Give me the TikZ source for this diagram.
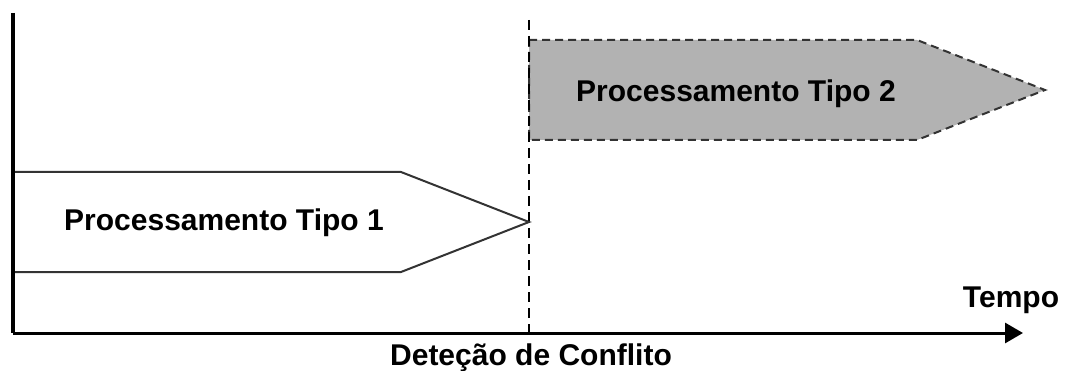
\documentclass[tikz,border=0pt]{standalone}
\usepackage{fontspec}
\setmainfont{Liberation Sans}
\usetikzlibrary{arrows.meta}

\tikzset{
    label/.style={font=\fontsize{30}{36}\selectfont\bfseries, anchor=base, inner sep=0pt},
    axis/.style={line width=3pt, black},
    phase/.style={line width=2pt, draw=black!80, line join=miter},
    conflict/.style={line width=2pt, dash pattern=on 10pt off 6pt}
}

\begin{document}
\begin{tikzpicture}[x=1pt, y=-1pt]
\useasboundingbox (0, 0) rectangle (1067, 371);

\coordinate (top) at (13, 13);
\coordinate (origin) at (13, 333);
\coordinate (tempo) at (1023, 333);
\coordinate (detTop) at (529, 20);
\coordinate (detBot) at (529, 333);

\draw[phase, fill=black!30, dash pattern=on 8pt off 5pt]
    (529, 40) -- (917, 40) -- (1045, 90) -- (917, 140) -- (529, 140) -- cycle;

\draw[conflict] (detTop) -- (detBot);

\draw[phase]
    (14, 172) -- (401, 172) -- (529, 222) -- (401, 272) -- (14, 272);

\draw[axis, line width=4pt] (top) -- (origin);
\draw[axis, -{Triangle[length=18pt, width=20pt]}] (origin) -- (tempo);

\node[label] (tipo1) at (224, 231) {Processamento Tipo 1};
\node[label] (tipo2) at (736, 102) {Processamento Tipo 2};
\node[label] (tempoLbl) at (1011, 307) {Tempo};
\node[label] (detLbl) at (531, 365) {Deteção de Conflito};
\end{tikzpicture}
\end{document}
